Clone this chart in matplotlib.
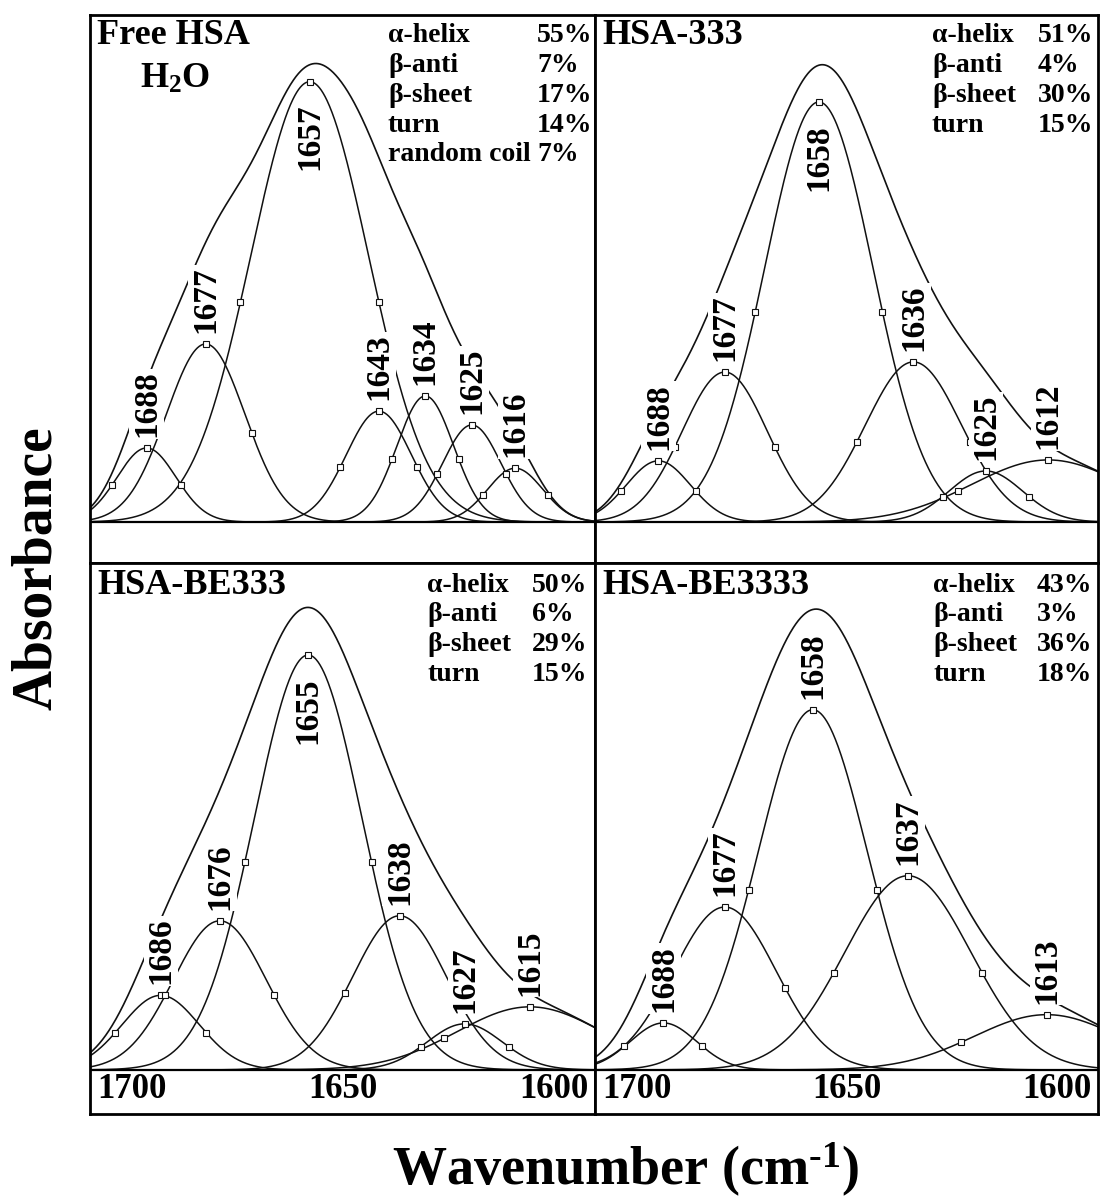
import matplotlib
matplotlib.use('Agg')
import matplotlib.pyplot as plt
import numpy as np

plt.rcParams['font.family'] = ['Liberation Serif', 'DejaVu Serif']
plt.rcParams['font.weight'] = 'bold'
plt.rcParams['mathtext.fontset'] = 'custom'
plt.rcParams['mathtext.rm'] = 'Liberation Serif:bold'
plt.rcParams['mathtext.bf'] = 'Liberation Serif:bold'
plt.rcParams['mathtext.it'] = 'Liberation Serif:bold:italic'

# ---- data ----
samples = ['Free HSA', 'HSA-333', 'HSA-BE333', 'HSA-BE3333']

structures = [
    ['α-helix', 'β-anti', 'β-sheet', 'turn', 'random coil'],
    ['α-helix', 'β-anti', 'β-sheet', 'turn'],
    ['α-helix', 'β-anti', 'β-sheet', 'turn'],
    ['α-helix', 'β-anti', 'β-sheet', 'turn'],
]
percents = [
    [55, 7, 17, 14, 7],
    [51, 4, 30, 15],
    [50, 6, 29, 15],
    [43, 3, 36, 18],
]

# band labels, fitted centre (cm-1), height (a.u.), FWHM (cm-1)
hsa_labels = ['1688', '1677', '1657', '1643', '1634', '1625', '1616']
hsa_center = [1688.8, 1677.1, 1656.5, 1642.8, 1633.6, 1624.4, 1615.8]
hsa_height = [0.161, 0.387, 0.957, 0.241, 0.274, 0.211, 0.117]
hsa_fwhm = [13.7, 18.3, 27.4, 15.2, 13.2, 13.6, 12.9]

h333_labels = ['1688', '1677', '1658', '1636', '1625', '1612']
h333_center = [1687.4, 1674.2, 1655.5, 1636.7, 1622.3, 1609.9]
h333_height = [0.133, 0.326, 0.913, 0.348, 0.111, 0.135]
h333_fwhm = [15.0, 19.9, 25.3, 22.5, 17.2, 35.8]

be333_labels = ['1686', '1676', '1655', '1638', '1627', '1615']
be333_center = [1686.0, 1674.3, 1656.8, 1638.7, 1625.8, 1612.9]
be333_height = [0.162, 0.324, 0.902, 0.335, 0.100, 0.137]
be333_fwhm = [18.0, 21.6, 25.1, 21.8, 17.5, 33.9]

be3333_labels = ['1688', '1677', '1658', '1637', '1613']
be3333_center = [1686.4, 1674.2, 1656.7, 1637.8, 1610.2]
be3333_height = [0.102, 0.354, 0.783, 0.422, 0.120]
be3333_fwhm = [15.5, 24.1, 25.5, 29.5, 34.0]

bands = [
    (hsa_labels, hsa_center, hsa_height, hsa_fwhm),
    (h333_labels, h333_center, h333_height, h333_fwhm),
    (be333_labels, be333_center, be333_height, be333_fwhm),
    (be3333_labels, be3333_center, be3333_height, be3333_fwhm),
]

wn_ticks = [1700, 1650, 1600]

# ---- layout (pixels in a 1100 x 1203 figure) ----
W, H = 1100, 1203
panel_px = [(90, 15, 505, 548), (595, 15, 503, 548),
            (90, 563, 505, 551), (595, 563, 503, 551)]
label_col = [298, 337, 337, 338]
pct_col = [447, 443, 442, 442]
row0 = [21, 21, 22, 22]
row_step = 29.7

fig = plt.figure(figsize=(W / 100, H / 100), dpi=100)
wn = np.linspace(1700, 1600, 800)


def gauss(x, c, h, fw):
    s = fw / 2.355
    return h * np.exp(-0.5 * ((x - c) / s) ** 2)


for i in range(4):
    px, py, pw, ph = panel_px[i]
    ax = fig.add_axes([px / W, 1 - (py + ph) / H, pw / W, ph / H])
    bottom_row = i >= 2
    ax.set_xlim(1700, 1600)
    ax.set_ylim(-0.096 if bottom_row else -0.089, 1.102)
    ax.set_xticks([])
    ax.set_yticks([])
    for sp in ax.spines.values():
        sp.set_linewidth(2.0)
    ax.axhline(0, color='k', lw=1.6, zorder=4)

    labels, centers, heights, fwhms = bands[i]
    env = np.zeros_like(wn)
    for c, h, fw in zip(centers, heights, fwhms):
        env += gauss(wn, c, h, fw)
    ax.plot(wn, env, color='#111111', lw=1.2, zorder=2)

    hmax = max(heights)
    for lab, c, h, fw in zip(labels, centers, heights, fwhms):
        ax.plot(wn, gauss(wn, c, h, fw), color='#111111', lw=1.1, zorder=2)
        ax.plot([c + fw / 2, c, c - fw / 2], [h / 2, h, h / 2], ls='none',
                marker='s', ms=5, mfc='white', mec='#111111', mew=0.8, zorder=3)
        env_c = sum(gauss(c, c2, h2, f2) for c2, h2, f2 in zip(centers, heights, fwhms))
        if h == hmax and h + 0.174 > env_c:
            ax.text(c, h - 0.048, lab, rotation=90, ha='center', va='top',
                    fontsize=24, zorder=5)
        else:
            ax.text(c, h + 0.024, lab, rotation=90, ha='center', va='bottom',
                    fontsize=24, zorder=5,
                    bbox=dict(boxstyle='square,pad=0.05', fc='white', ec='none'))

    # sample name
    fig.text((px + 7) / W, 1 - (py + row0[i]) / H, samples[i], ha='left',
             va='center', fontsize=26)
    if i == 0:
        fig.text((px + 85) / W, 1 - (py + 64) / H, r'H$_{2}$O', ha='center',
                 va='center', fontsize=26)

    # secondary structure composition
    for k, (s, p) in enumerate(zip(structures[i], percents[i])):
        yy = 1 - (py + row0[i] + k * row_step) / H
        fig.text((px + label_col[i]) / W, yy, s, ha='left', va='center', fontsize=20)
        fig.text((px + pct_col[i]) / W, yy, f'{p}%', ha='left', va='center', fontsize=20)

    if bottom_row:
        for t, ha, dx in zip(wn_ticks, ['left', 'center', 'right'], [5, 0, -5]):
            ax.annotate(str(t), xy=(t, 0.045), xycoords=('data', 'axes fraction'),
                        xytext=(dx, 0), textcoords='offset points',
                        ha=ha, va='center', fontsize=25)

fig.text(37 / W, 1 - 568 / H, 'Absorbance', rotation=90, ha='center',
         va='center', fontsize=40)
fig.text(626 / W, 1 - 1185 / H, r'Wavenumber (cm$^{\text{-}1}$)', ha='center',
         va='baseline', fontsize=39)

fig.savefig('out.png', dpi=100)
